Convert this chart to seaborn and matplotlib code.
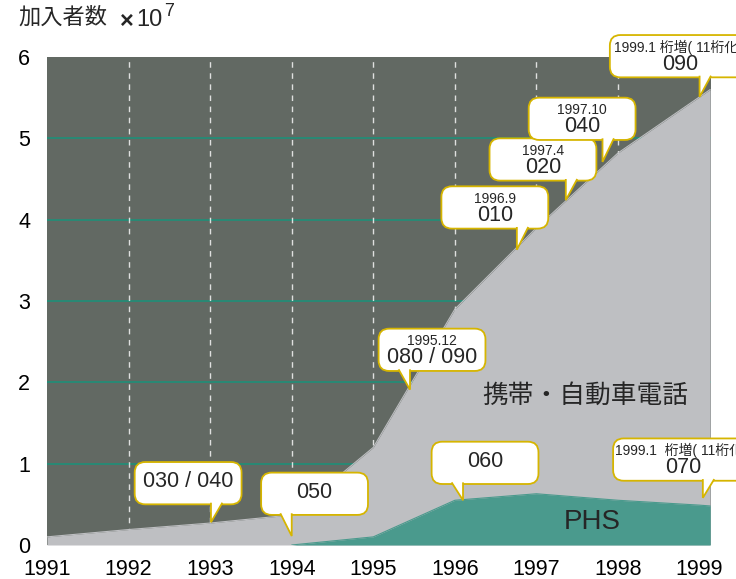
import numpy as np
import matplotlib
matplotlib.use('Agg')
import matplotlib.pyplot as plt
import seaborn as sns
from matplotlib.patches import FancyBboxPatch, Polygon

sns.set_theme(style='white')
plt.rcParams['font.family'] = ['Liberation Sans', 'Noto Sans CJK JP', 'DejaVu Sans']

# data (units of 10^7 subscribers)
years = [1991, 1992, 1993, 1994, 1995, 1996, 1997, 1998, 1999, 1999.13]
mobile = [0.10, 0.19, 0.27, 0.37, 1.20, 2.90, 3.90, 4.82, 5.51, 5.60]
phs_years = [1994, 1995, 1996, 1997, 1998, 1999, 1999.13]
phs = [0.0, 0.10, 0.55, 0.63, 0.55, 0.49, 0.48]
year_ticks = [1991, 1992, 1993, 1994, 1995, 1996, 1997, 1998, 1999]
y_ticks = [0, 1, 2, 3, 4, 5, 6]

# callouts: small line, big line, tip (x, y), box centre (x, y), box width
callouts = [
    ('', '030 / 040', (1993.01, 0.28), (1992.73, 0.76), 1.31),
    ('', '050', (1994.00, 0.11), (1994.28, 0.63), 1.31),
    ('1995.12', '080 / 090', (1995.45, 1.91), (1995.72, 2.40), 1.31),
    ('1996.9', '010', (1996.76, 3.63), (1996.49, 4.15), 1.31),
    ('1997.4', '020', (1997.36, 4.24), (1997.08, 4.74), 1.31),
    ('1997.10', '040', (1997.81, 4.71), (1997.56, 5.24), 1.31),
    ('1999.1 桁増( 11桁化 )', '090', (1999.00, 5.51), (1998.76, 6.01), 1.72),
    ('', '060', (1996.10, 0.55), (1996.37, 1.01), 1.31),
    ('1999.1  桁増( 11桁化 )', '070', (1999.04, 0.58), (1998.80, 1.05), 1.72),
]

bg = '#626963'
grey = '#bebfc2'
teal = '#4a9a8d'
grid_teal = '#1f8f78'
gold = '#d6b500'

fig = plt.figure(figsize=(7.36, 5.79), dpi=100)
ax = fig.add_axes([47 / 736, 34 / 579, 664 / 736, 488 / 579])
ax.set_facecolor(bg)
for s in ax.spines.values():
    s.set_visible(False)

for y in y_ticks[1:-1]:
    ax.axhline(y, color=grid_teal, lw=1.2, zorder=1)
for x in year_ticks[1:-1]:
    ax.axvline(x, color='white', lw=1, ls=(0, (4, 4)), alpha=0.8, zorder=1)

ax.fill_between(years, 0, mobile, color=grey, lw=0, zorder=2)
sns.lineplot(x=years, y=mobile, ax=ax, color=grey, lw=0.8, zorder=2)
ax.fill_between(phs_years, 0, phs, color=teal, lw=0, zorder=3)
sns.lineplot(x=phs_years, y=phs, ax=ax, color=teal, lw=0.8, zorder=3)

ax.set_xlim(1991, 1999.14)
ax.set_ylim(0, 6)
ax.set_xticks(year_ticks)
ax.set_yticks(y_ticks)
ax.tick_params(axis='both', length=0, labelsize=15.5, colors='black')
ax.tick_params(axis='x', pad=10)
ax.tick_params(axis='y', pad=12)
ax.set_xlabel('')
ax.set_ylabel('')

box_h = 0.52
tail_w = 0.14
for small, big, (tx, ty), (cx, cy), bw in callouts:
    box = FancyBboxPatch((cx - bw / 2, cy - box_h / 2), bw, box_h,
                         boxstyle='round,pad=0,rounding_size=0.13',
                         facecolor='white', edgecolor=gold, lw=1.3,
                         zorder=5, clip_on=False)
    ax.add_patch(box)
    by = cy - box_h / 2 + 0.02
    if tx >= cx:
        pts = [(tx, by), (tx, ty), (tx + tail_w, by)]
    else:
        pts = [(tx - tail_w, by), (tx, ty), (tx, by)]
    tail = Polygon(pts, closed=False, facecolor='white', edgecolor=gold,
                   lw=1.3, zorder=6, clip_on=False)
    ax.add_patch(tail)
    if small:
        ax.text(cx, cy + 0.11, small, ha='center', va='center', fontsize=10,
                zorder=7, clip_on=False)
        ax.text(cx, cy - 0.10, big, ha='center', va='center', fontsize=15.5,
                zorder=7, clip_on=False)
    else:
        ax.text(cx, cy + 0.02, big, ha='center', va='center', fontsize=15.5,
                zorder=7, clip_on=False)

ax.text(1997.6, 1.84, '携帯・自動車電話', ha='center', va='center',
        fontsize=18.5, zorder=4)
ax.text(1997.68, 0.28, 'PHS', ha='center', va='center', fontsize=20, zorder=4)

fig.text(18 / 736, 1 - 18 / 579, '加入者数', ha='left', va='center', fontsize=16)
fig.text(120 / 736, 1 - 21 / 579, '×', ha='left', va='center', fontsize=17,
         fontweight='bold')
fig.text(136 / 736, 1 - 20 / 579, '10', ha='left', va='center', fontsize=17)
fig.text(164 / 736, 1 - 11 / 579, '7', ha='left', va='center', fontsize=13)

fig.savefig('out.png', dpi=100)
